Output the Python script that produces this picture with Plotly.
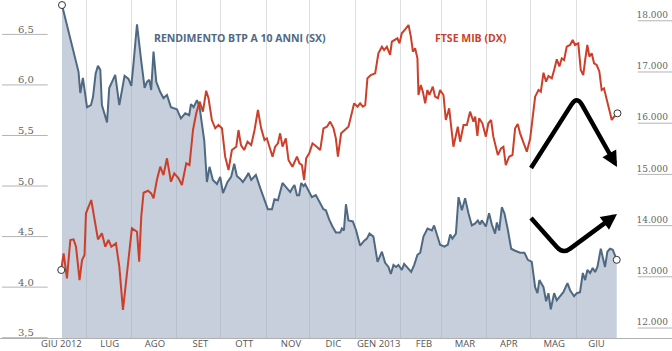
import pandas as pd
import plotly.graph_objects as go

BASE = pd.Timestamp("2012-07-01")

# BTP 10Y yield (left axis) - days from 2012-07-01
btp_day = [
    -16.6, -5.3, -4.1, -2.3, 0.5, 3.2, 4.6, 6.4, 8.0, 9.6,
    10.7, 14.2, 15.7, 19.8, 22.6, 26.2, 28.9, 30.8, 32.3, 34.7,
    37.4, 39.9, 41.5, 43.1, 44.4, 46.0, 47.9, 50.6, 52.8, 55.2,
    57.9, 62.0, 64.7, 67.7, 70.4, 71.6, 73.4, 75.7, 77.5, 79.1,
    80.7, 82.5, 84.3, 86.6, 89.4, 91.6, 93.5, 96.6, 99.1, 101.2,
    103.0, 105.3, 107.1, 109.9, 110.9, 112.8, 116.0, 119.0, 121.9, 124.2,
    127.0, 128.7, 131.1, 134.2, 137.2, 139.5, 141.0, 142.4, 144.1, 145.6,
    147.0, 148.6, 149.7, 152.0, 154.3, 157.0, 160.0, 162.2, 163.9, 166.1,
    168.4, 170.7, 173.7, 174.8, 176.2, 177.6, 179.3, 182.3, 184.6, 187.3,
    190.1, 191.9, 193.7, 196.4, 199.2, 202.2, 204.4, 206.7, 208.3, 210.1,
    211.9, 213.5, 215.8, 217.4, 220.4, 222.2, 224.3, 226.5, 228.4, 230.6,
    233.4, 236.4, 237.9, 239.8, 242.0, 245.0, 247.3, 248.9, 250.4, 252.8,
    254.6, 256.9, 259.1, 261.4, 263.7, 266.0, 267.8, 269.4, 270.5, 273.3,
    275.5, 277.4, 279.6, 280.8, 282.4, 284.2, 286.0, 288.3, 290.6, 293.3,
    296.7, 299.7, 302.0, 304.7, 307.0, 308.6, 309.9, 312.7, 314.5, 316.1,
    317.7, 320.0, 321.8, 324.1, 326.3, 329.1, 330.9, 333.6, 335.5, 337.7,
    339.6, 341.2, 342.7, 344.6, 346.4, 348.0, 349.6, 351.9, 354.8, 356.4,
    358.2, 360.1, 361.7, 362.8,
]
btp_val = [
    6.79, 6.13, 5.92, 6.07, 5.78, 5.80, 5.88, 6.11, 6.19, 6.15,
    5.80, 5.63, 5.97, 6.10, 5.80, 6.09, 6.06, 5.99, 6.21, 6.60,
    6.26, 5.97, 6.03, 6.05, 5.95, 6.33, 6.03, 5.93, 5.87, 5.90,
    5.78, 5.76, 5.67, 5.72, 5.70, 5.81, 5.78, 5.85, 5.78, 5.60,
    5.45, 5.04, 5.19, 5.06, 5.02, 5.09, 4.93, 5.04, 5.09, 5.22,
    5.10, 5.07, 5.04, 5.10, 5.13, 5.06, 5.11, 4.98, 4.86, 4.77,
    4.77, 4.87, 4.86, 5.03, 4.98, 4.94, 4.98, 5.01, 4.91, 4.91,
    5.03, 5.00, 5.02, 4.96, 4.89, 4.91, 4.83, 4.77, 4.76, 4.67,
    4.60, 4.54, 4.54, 4.58, 4.56, 4.82, 4.66, 4.65, 4.56, 4.41,
    4.46, 4.48, 4.53, 4.50, 4.25, 4.35, 4.24, 4.20, 4.13, 4.22,
    4.20, 4.22, 4.17, 4.23, 4.18, 4.15, 4.22, 4.32, 4.34, 4.50,
    4.58, 4.56, 4.61, 4.53, 4.42, 4.40, 4.42, 4.52, 4.48, 4.53,
    4.89, 4.76, 4.88, 4.73, 4.61, 4.63, 4.66, 4.62, 4.66, 4.60,
    4.73, 4.62, 4.53, 4.64, 4.56, 4.79, 4.73, 4.57, 4.38, 4.36,
    4.34, 4.34, 4.27, 4.25, 4.00, 3.94, 4.07, 4.00, 3.86, 3.94,
    3.78, 3.94, 3.87, 3.91, 3.95, 4.04, 3.97, 3.91, 3.94, 3.95,
    4.14, 4.07, 4.17, 4.14, 4.19, 4.15, 4.20, 4.38, 4.20, 4.35,
    4.38, 4.37, 4.32, 4.27,
]

# FTSE MIB (right axis) - days from 2012-07-01
mib_day = [
    -17.1, -15.5, -13.2, -10.9, -8.7, -7.0, -4.6, -2.9, -1.2, -0.2,
    3.4, 5.7, 8.0, 10.7, 13.0, 15.2, 17.1, 20.3, 22.6, 25.1,
    27.8, 31.2, 34.7, 36.2, 37.6, 39.2, 42.2, 44.4, 46.0, 48.3,
    50.6, 52.8, 55.2, 57.9, 60.2, 63.1, 65.4, 68.4, 70.6, 73.0,
    75.2, 77.5, 79.8, 82.0, 83.6, 85.9, 88.2, 90.4, 92.8, 95.0,
    97.3, 99.6, 102.6, 104.1, 105.8, 108.0, 110.3, 112.8, 115.1, 117.4,
    119.6, 121.9, 123.5, 125.1, 127.4, 129.2, 131.1, 132.6, 134.2, 136.5,
    138.3, 141.0, 144.1, 145.8, 147.5, 149.0, 150.4, 152.5, 154.7, 157.0,
    160.0, 162.2, 164.6, 166.8, 169.1, 170.7, 172.1, 174.3, 176.6, 179.3,
    181.0, 183.2, 185.5, 187.3, 189.2, 190.8, 192.3, 194.6, 197.6, 199.8,
    202.2, 203.7, 205.6, 207.8, 209.0, 211.3, 212.8, 214.2, 215.8, 218.1,
    220.4, 222.0, 223.4, 224.9, 226.5, 227.2, 228.8, 230.2, 231.8, 233.3,
    234.7, 237.0, 238.6, 240.5, 242.0, 244.3, 245.9, 248.2, 251.1, 254.1,
    255.7, 258.0, 260.3, 262.5, 264.8, 266.0, 267.5, 268.7, 270.9, 273.3,
    275.0, 276.9, 278.4, 281.5, 283.7, 285.3, 286.9, 289.2, 291.5, 293.3,
    295.1, 296.7, 299.0, 301.3, 303.6, 305.4, 307.0, 309.3, 310.9, 312.7,
    314.5, 316.1, 318.4, 320.0, 321.8, 323.6, 325.2, 326.8, 328.6, 330.9,
    332.7, 334.3, 336.5, 338.2, 339.9, 341.2, 342.7, 344.1, 345.7, 347.3,
    349.1, 350.9, 352.5, 354.1, 355.9, 357.7, 359.4, 361.0, 363.3,
]
mib_val = [
    13133, 13459, 12971, 13719, 13732, 13588, 12937, 13328, 13426, 14240,
    14500, 14109, 13732, 13849, 13588, 13719, 13588, 13654, 13197, 12352,
    13002, 13947, 13881, 13295, 14174, 14642, 14681, 14630, 14533, 14890,
    15150, 14988, 15314, 14857, 15021, 14924, 14793, 15217, 15183, 15867,
    16193, 16420, 16225, 16635, 16486, 16062, 15900, 15965, 15900, 15346,
    15086, 15476, 15541, 15867, 15574, 15476, 15639, 15574, 15867, 16258,
    15900, 15672, 15705, 15574, 15346, 15541, 15607, 15802, 15541, 15705,
    15281, 15150, 15346, 15216, 15183, 14890, 15314, 15411, 15607, 15554,
    15476, 15900, 15932, 16030, 15900, 15705, 15346, 15802, 15867, 15932,
    16127, 16388, 16322, 16388, 16322, 16355, 16877, 16941, 16974, 17365,
    17494, 17429, 17494, 17332, 17592, 17625, 17658, 17560, 17755, 17833,
    17918, 17690, 17397, 17462, 17267, 16551, 16746, 16616, 16388, 16648,
    16551, 16713, 16518, 16486, 16648, 16551, 16062, 16291, 15541, 15932,
    15639, 15965, 15965, 16225, 16030, 16127, 15750, 16095, 15998, 15737,
    15998, 16062, 15737, 15379, 15509, 15541, 15183, 15346, 15379, 15900,
    15984, 15802, 15607, 15444, 15700, 16193, 16518, 16648, 16616, 16987,
    16811, 16922, 16877, 17039, 17248, 17109, 17267, 17234, 17494, 17527,
    17625, 17527, 17560, 17039, 16941, 17234, 17527, 17299, 17365, 17169,
    17136, 17010, 16648, 16681, 16453, 16258, 16062, 16127, 16193,
]

month_labels = ["GIU 2012", "LUG", "AGO", "SET", "OTT", "NOV", "DIC",
                "GEN 2013", "FEB", "MAR", "APR", "MAG", "GIU"]
month_label_dates = ["2012-06-14", "2012-07-17", "2012-08-17", "2012-09-17",
                     "2012-10-17", "2012-11-18", "2012-12-17", "2013-01-17",
                     "2013-02-17", "2013-03-17", "2013-04-16", "2013-05-17",
                     "2013-06-15"]
left_ticks = [3.5, 4.0, 4.5, 5.0, 5.5, 6.0, 6.5]
right_ticks = [12000, 13000, 14000, 15000, 16000, 17000, 18000]

BLUE = "#4f6983"
RED = "#cd3f2a"
FILL = "rgba(150,166,188,0.54)"

btp_x = BASE + pd.to_timedelta(btp_day, unit="D")
mib_x = BASE + pd.to_timedelta(mib_day, unit="D")
month_starts = pd.date_range("2012-07-01", "2013-06-01", freq="MS")

fig = go.Figure()
fig.add_trace(go.Scatter(x=btp_x, y=btp_val, mode="lines", fill="tozeroy",
                         fillcolor=FILL, line=dict(color=BLUE, width=2),
                         hoverinfo="skip", yaxis="y"))
fig.add_trace(go.Scatter(x=[btp_x[0], btp_x[-1]], y=[btp_val[0], btp_val[-1]],
                         mode="markers", yaxis="y",
                         marker=dict(size=7, color="white",
                                     line=dict(color="#333333", width=1))))
fig.add_trace(go.Scatter(x=mib_x, y=mib_val, mode="lines",
                         line=dict(color=RED, width=2), yaxis="y2",
                         hoverinfo="skip"))
fig.add_trace(go.Scatter(x=[mib_x[0], mib_x[-1]], y=[mib_val[0], mib_val[-1]],
                         mode="markers", yaxis="y2",
                         marker=dict(size=7, color="white",
                                     line=dict(color="#333333", width=1))))

shapes = []
for v in left_ticks:
    shapes.append(dict(type="line", xref="paper", x0=0.003, x1=0.071,
                       yref="y", y0=v, y1=v, layer="above",
                       line=dict(color="#b4b4b4", width=1)))
for v in right_ticks:
    shapes.append(dict(type="line", xref="paper", x0=0.949, x1=1.0,
                       yref="y2", y0=v, y1=v, layer="above",
                       line=dict(color="#b4b4b4", width=1)))
# decorative arrows
shapes.append(dict(type="path", xref="paper", yref="paper",
                   path="M 0.7902,0.5030 L 0.8506,0.6911 Q 0.8586,0.7160 0.8659,0.6902 L 0.9094,0.5370",
                   line=dict(color="black", width=4.5)))
shapes.append(dict(type="path", xref="paper", yref="paper",
                   path="M 0.7902,0.3550 L 0.8289,0.2683 Q 0.8378,0.2485 0.8485,0.2645 L 0.9039,0.3459",
                   line=dict(color="black", width=4.5)))

annotations = [
    dict(text="<b>RENDIMENTO BTP A 10 ANNI (SX)</b>", xref="paper", yref="paper",
         x=0.2262, y=0.888, xanchor="left", yanchor="middle", showarrow=False,
         font=dict(family="Open Sans", size=10.5, color=BLUE)),
    dict(text="<b>FTSE MIB (DX)</b>", xref="paper", yref="paper",
         x=0.6443, y=0.888, xanchor="left", yanchor="middle", showarrow=False,
         font=dict(family="Open Sans", size=10.5, color=RED)),
    dict(text="", xref="paper", yref="paper", x=0.9182, y=0.5059,
         ax=-7.8, ay=-13.9, axref="pixel", ayref="pixel", showarrow=True,
         arrowhead=2, arrowsize=0.7, arrowwidth=4.5, arrowcolor="black", standoff=0),
    dict(text="", xref="paper", yref="paper", x=0.9182, y=0.3669,
         ax=-12.9, ay=9.5, axref="pixel", ayref="pixel", showarrow=True,
         arrowhead=2, arrowsize=0.7, arrowwidth=4.5, arrowcolor="black", standoff=0),
]

fig.update_layout(
    width=672, height=351,
    margin=dict(l=0, r=0, t=0, b=13),
    paper_bgcolor="white", plot_bgcolor="white",
    showlegend=False, separators=",.",
    shapes=shapes, annotations=annotations,
    xaxis=dict(
        type="date",
        range=[BASE + pd.Timedelta(days=-59.0), BASE + pd.Timedelta(days=400.6)],
        tickmode="array", tickvals=month_label_dates, ticktext=month_labels,
        showgrid=False, zeroline=False, ticks="",
        ticklabelstandoff=-3,
        tickfont=dict(family="Open Sans", size=9.5, color="#555555"),
        showline=True, linecolor="#b0b0b0", linewidth=1,
        minor=dict(tickvals=month_starts, showgrid=True,
                   gridcolor="#dedede", gridwidth=1, ticks=""),
        automargin=False,
    ),
    yaxis=dict(
        range=[3.497, 6.84], tickmode="array", tickvals=left_ticks,
        tickformat=".1f", ticklabelposition="inside", ticks="",
        ticklabelstandoff=15, ticklabelshift=-5, ticklabeloverflow="allow",
        showgrid=False, zeroline=False, showline=False,
        tickfont=dict(family="DejaVu Serif", size=10, color="#666666"),
        automargin=False,
    ),
    yaxis2=dict(
        overlaying="y", side="right", anchor="x",
        range=[11805, 18406], tickmode="array", tickvals=right_ticks,
        tickformat=",d", ticklabelposition="inside", ticks="",
        ticklabelstandoff=1, ticklabelshift=-6, ticklabeloverflow="allow",
        showgrid=False, zeroline=False, showline=False,
        tickfont=dict(family="DejaVu Serif", size=9, color="#666666"),
        automargin=False,
    ),
)

fig.write_html("out.html")
